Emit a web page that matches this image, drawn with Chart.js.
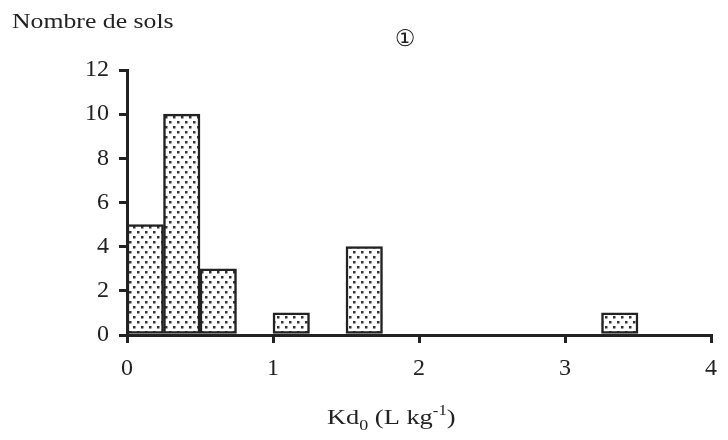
<!DOCTYPE html>
<html>
<head>
<meta charset="utf-8">
<script src="https://cdn.jsdelivr.net/npm/chart.js@4.4.1/dist/chart.umd.min.js"></script>
<style>
  html, body { margin: 0; background: #fff; }
  #wrap { width: 728px; height: 440px; }
  .fontwarm { position: absolute; left: -999px; font-family: "Liberation Serif"; }
</style>
</head>
<body>
<span class="fontwarm">Kd 0123</span>
<div id="wrap"><canvas id="histo"></canvas></div>
<script>
// Histogramme : nombre de sols par classe de Kd0 (classes de 0,25 L/kg)
const binCenters = [0.125, 0.375, 0.625, 1.125, 1.625, 3.375];
const soilCounts = [5, 10, 3, 1, 4, 1];
const xTicks = [0, 1, 2, 3, 4];
const yTicks = [0, 2, 4, 6, 8, 10, 12];

const ink = '#222';
const serif = "'Liberation Serif', 'Times New Roman', serif";

// trame pointillée des barres
function dotPattern() {
    const c = document.createElement('canvas');
    c.width = 8;
    c.height = 10;
    const g = c.getContext('2d');
    g.fillStyle = '#fff';
    g.fillRect(0, 0, 8, 10);
    g.fillStyle = '#333';
    g.fillRect(1, 1, 2.5, 2.5);
    g.fillRect(5, 6, 2.5, 2.5);
    return g.createPattern(c, 'repeat');
}

// textes libres : titre de l'axe y, repère du panneau, titre de l'axe x
const labelsPlugin = {
    id: 'freeLabels',
    afterDraw(chart) {
        const ctx = chart.ctx;
        ctx.save();
        ctx.fillStyle = ink;
        ctx.textBaseline = 'alphabetic';

        ctx.save();
        ctx.translate(12, 28);
        ctx.scale(1.17, 1);
        ctx.font = '22px ' + serif;
        ctx.fillText('Nombre de sols', 0, 0);
        ctx.restore();

        ctx.font = '23px "DejaVu Sans"';
        ctx.textAlign = 'center';
        ctx.textBaseline = 'middle';
        ctx.fillText('\u2460', 405, 40);

        ctx.textAlign = 'left';
        ctx.textBaseline = 'alphabetic';
        ctx.save();
        ctx.translate(327, 424);
        ctx.scale(1.2, 1);
        let x = 0;
        const part = (txt, size, dy) => {
            ctx.font = size + 'px ' + serif;
            ctx.fillText(txt, x, dy);
            x += ctx.measureText(txt).width;
        };
        part('Kd', 22, 0);
        part('0', 15, 6);
        part(' (L kg', 22, 0);
        part('-1', 14, -9);
        part(')', 22, 0);
        ctx.restore();

        ctx.restore();
    }
};

const axisLine = { display: true, color: ink, width: 3 };
const axisGrid = {
    display: true,
    drawOnChartArea: false,
    drawTicks: true,
    tickLength: 8,
    color: ink,
    lineWidth: 3,
    offset: false
};

function drawChart() {
    new Chart(document.getElementById('histo'), {
        type: 'bar',
        data: {
            datasets: [{
                data: binCenters.map((c, i) => ({ x: c, y: soilCounts[i] })),
                backgroundColor: dotPattern(),
                borderColor: ink,
                borderWidth: 2.5,
                borderSkipped: false,
                barPercentage: 1,
                categoryPercentage: 1
            }]
        },
        options: {
            responsive: true,
            maintainAspectRatio: false,
            animation: false,
            events: [],
            layout: { padding: { top: 70, left: 8, right: 9, bottom: 0 } },
            plugins: {
                legend: { display: false },
                tooltip: { enabled: false }
            },
            scales: {
                x: {
                    type: 'linear',
                    min: 0,
                    max: 4,
                    offset: false,
                    grid: axisGrid,
                    border: axisLine,
                    afterBuildTicks: s => { s.ticks = xTicks.map(v => ({ value: v })); },
                    afterFit: s => { s.height = 105; },
                    ticks: {
                        color: ink,
                        padding: 11,
                        maxRotation: 0,
                        font: { family: serif, size: 24 }
                    }
                },
                y: {
                    min: 0,
                    max: 12,
                    grid: axisGrid,
                    border: axisLine,
                    afterBuildTicks: s => { s.ticks = yTicks.map(v => ({ value: v })); },
                    afterFit: s => { s.width = 119; },
                    ticks: {
                        color: ink,
                        padding: 10,
                        font: { family: serif, size: 24 }
                    }
                }
            }
        },
        plugins: [labelsPlugin]
    });
}

document.fonts.load("24px 'Liberation Serif'").then(drawChart, drawChart);
</script>
</body>
</html>
